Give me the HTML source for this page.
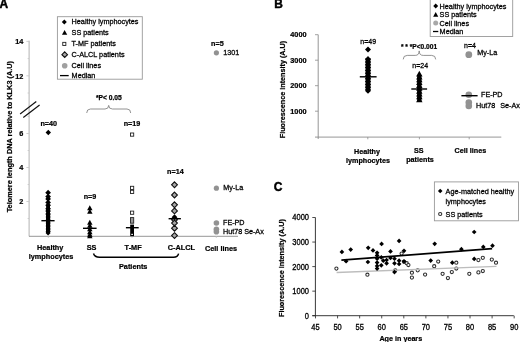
<!DOCTYPE html>
<html><head><meta charset="utf-8"><style>
html,body{margin:0;padding:0;background:#fff;}
body{width:520px;height:342px;overflow:hidden;}
svg{display:block;font-family:"Liberation Sans", sans-serif;filter:blur(0.35px);}
</style></head><body>
<svg width="520" height="342" viewBox="0 0 520 342">
<rect width="520" height="342" fill="#fff"/>
<text x="-0.4" y="8.3" font-size="11.9" font-weight="bold" text-anchor="start" fill="#000" stroke="#000" stroke-width="0.45">A</text>
<line x1="29.1" y1="40.7" x2="29.1" y2="236.3" stroke="#a4a4a4" stroke-width="0.85"/>
<line x1="26.4" y1="41.4" x2="29" y2="41.4" stroke="#c4c4c4" stroke-width="0.8"/>
<line x1="27.6" y1="58.599999999999994" x2="29" y2="58.599999999999994" stroke="#c4c4c4" stroke-width="0.8"/>
<line x1="26.4" y1="75.8" x2="29" y2="75.8" stroke="#c4c4c4" stroke-width="0.8"/>
<line x1="27.6" y1="93.0" x2="29" y2="93.0" stroke="#c4c4c4" stroke-width="0.8"/>
<line x1="27.6" y1="116.5" x2="29" y2="116.5" stroke="#c4c4c4" stroke-width="0.8"/>
<line x1="26.4" y1="133.5" x2="29" y2="133.5" stroke="#c4c4c4" stroke-width="0.8"/>
<line x1="27.6" y1="150.5" x2="29" y2="150.5" stroke="#c4c4c4" stroke-width="0.8"/>
<line x1="26.4" y1="167.5" x2="29" y2="167.5" stroke="#c4c4c4" stroke-width="0.8"/>
<line x1="27.6" y1="184.5" x2="29" y2="184.5" stroke="#c4c4c4" stroke-width="0.8"/>
<line x1="26.4" y1="201.5" x2="29" y2="201.5" stroke="#c4c4c4" stroke-width="0.8"/>
<line x1="27.6" y1="218.5" x2="29" y2="218.5" stroke="#c4c4c4" stroke-width="0.8"/>
<text x="23.4" y="44.1" font-size="7.3" font-weight="bold" text-anchor="end" fill="#000" stroke="#000" stroke-width="0.22">14</text>
<text x="23.4" y="78.5" font-size="7.3" font-weight="bold" text-anchor="end" fill="#000" stroke="#000" stroke-width="0.22">12</text>
<text x="23.4" y="136.1" font-size="7.3" font-weight="bold" text-anchor="end" fill="#000" stroke="#000" stroke-width="0.22">6</text>
<text x="23.4" y="170.1" font-size="7.3" font-weight="bold" text-anchor="end" fill="#000" stroke="#000" stroke-width="0.22">4</text>
<text x="23.4" y="204.1" font-size="7.3" font-weight="bold" text-anchor="end" fill="#000" stroke="#000" stroke-width="0.22">2</text>
<line x1="20.1" y1="113.9" x2="36.3" y2="101.6" stroke="#111" stroke-width="1.2"/>
<line x1="23.3" y1="117.5" x2="39.6" y2="105" stroke="#111" stroke-width="1.2"/>
<line x1="29" y1="236.3" x2="238" y2="236.3" stroke="#8a8a8a" stroke-width="0.9"/>
<line x1="48.3" y1="236.3" x2="48.3" y2="238.0" stroke="#c8c8c8" stroke-width="0.8"/>
<line x1="89.7" y1="236.3" x2="89.7" y2="238.0" stroke="#c8c8c8" stroke-width="0.8"/>
<line x1="132" y1="236.3" x2="132" y2="238.0" stroke="#c8c8c8" stroke-width="0.8"/>
<line x1="174.5" y1="236.3" x2="174.5" y2="238.0" stroke="#c8c8c8" stroke-width="0.8"/>
<line x1="216.3" y1="236.3" x2="216.3" y2="238.0" stroke="#c8c8c8" stroke-width="0.8"/>
<text transform="translate(11.5,136.65) rotate(-90)" font-size="7.35" font-weight="bold" text-anchor="middle" stroke="#000" stroke-width="0.22">Telomere length DNA relative to KLK3 (A.U)</text>
<rect x="57.4" y="16.7" width="84.9" height="62.5" fill="#fff" stroke="#999" stroke-width="0.9"/>
<path d="M64.3 19.5L66.8 22L64.3 24.5L61.8 22Z" fill="#000" stroke="none" stroke-width="0"/>
<path d="M64.6 29.950000000000003L67.25 34.72L61.949999999999996 34.72Z" fill="#000"/>
<rect x="62.75" y="42.35" width="3.1" height="3.1" fill="#fff" stroke="#222" stroke-width="0.9"/>
<path d="M64.7 51.900000000000006L67.5 54.7L64.7 57.5L61.900000000000006 54.7Z" fill="#a6a6a6" stroke="#111" stroke-width="1.1"/>
<circle cx="64.7" cy="65.8" r="2.8" fill="#a0a0a0"/>
<line x1="60" y1="75.6" x2="68.7" y2="75.6" stroke="#000" stroke-width="1.3"/>
<text x="71.6" y="24.3" font-size="7.25" text-anchor="start" fill="#000" stroke="#000" stroke-width="0.27">Healthy lymphocytes</text>
<text x="71.6" y="34.9" font-size="7.25" text-anchor="start" fill="#000" stroke="#000" stroke-width="0.27">SS patients</text>
<text x="71.6" y="46.199999999999996" font-size="7.25" text-anchor="start" fill="#000" stroke="#000" stroke-width="0.27">T-MF patients</text>
<text x="71.6" y="57.0" font-size="7.25" text-anchor="start" fill="#000" stroke="#000" stroke-width="0.27">C-ALCL patients</text>
<text x="71.6" y="68.1" font-size="7.25" text-anchor="start" fill="#000" stroke="#000" stroke-width="0.27">Cell lines</text>
<text x="71.6" y="77.89999999999999" font-size="7.25" text-anchor="start" fill="#000" stroke="#000" stroke-width="0.27">Median</text>
<text x="108.8" y="100.0" font-size="6.7" font-weight="bold" text-anchor="middle" fill="#000" stroke="#000" stroke-width="0.25">*P&lt; 0.05</text>
<path d="M86.7 113 Q86.7 109 90.5 109 L105 109 Q108.7 109 108.7 105.4 Q108.7 109 112.4 109 L127 109 Q130.7 109 130.7 113" fill="none" stroke="#777" stroke-width="0.8"/>
<text x="48.7" y="126" font-size="7.2" font-weight="bold" text-anchor="middle" fill="#000" stroke="#000" stroke-width="0.22">n=40</text>
<text x="132" y="125.5" font-size="7.2" font-weight="bold" text-anchor="middle" fill="#000" stroke="#000" stroke-width="0.22">n=19</text>
<text x="90.0" y="199.2" font-size="7.2" font-weight="bold" text-anchor="middle" fill="#000" stroke="#000" stroke-width="0.22">n=9</text>
<text x="175.4" y="173.6" font-size="7.2" font-weight="bold" text-anchor="middle" fill="#000" stroke="#000" stroke-width="0.22">n=14</text>
<text x="217.4" y="45.8" font-size="7.2" font-weight="bold" text-anchor="middle" fill="#000" stroke="#000" stroke-width="0.22">n=5</text>
<path d="M48.3 129.8L51.0 132.5L48.3 135.2L45.599999999999994 132.5Z" fill="#000" stroke="none" stroke-width="0"/>
<path d="M48.1 189.85L50.95 192.7L48.1 195.54999999999998L45.25 192.7Z" fill="#000" stroke="none" stroke-width="0"/>
<path d="M48.1 193.75L50.95 196.6L48.1 199.45L45.25 196.6Z" fill="#000" stroke="none" stroke-width="0"/>
<path d="M48.1 196.05L50.95 198.9L48.1 201.75L45.25 198.9Z" fill="#000" stroke="none" stroke-width="0"/>
<path d="M48.1 199.55L50.95 202.4L48.1 205.25L45.25 202.4Z" fill="#000" stroke="none" stroke-width="0"/>
<path d="M48.1 202.35L50.95 205.2L48.1 208.04999999999998L45.25 205.2Z" fill="#000" stroke="none" stroke-width="0"/>
<path d="M48.1 205.95000000000002L50.95 208.8L48.1 211.65L45.25 208.8Z" fill="#000" stroke="none" stroke-width="0"/>
<path d="M48.1 208.25L50.95 211.1L48.1 213.95L45.25 211.1Z" fill="#000" stroke="none" stroke-width="0"/>
<path d="M48.1 211.25L50.95 214.1L48.1 216.95L45.25 214.1Z" fill="#000" stroke="none" stroke-width="0"/>
<path d="M48.1 214.45L50.65 217L48.1 219.55L45.550000000000004 217Z" fill="#000" stroke="none" stroke-width="0"/>
<path d="M48.1 217.45L50.65 220L48.1 222.55L45.550000000000004 220Z" fill="#000" stroke="none" stroke-width="0"/>
<path d="M48.1 220.45L50.65 223L48.1 225.55L45.550000000000004 223Z" fill="#000" stroke="none" stroke-width="0"/>
<path d="M48.1 223.45L50.65 226L48.1 228.55L45.550000000000004 226Z" fill="#000" stroke="none" stroke-width="0"/>
<path d="M48.1 226.45L50.65 229L48.1 231.55L45.550000000000004 229Z" fill="#000" stroke="none" stroke-width="0"/>
<path d="M48.1 228.95L50.65 231.5L48.1 234.05L45.550000000000004 231.5Z" fill="#000" stroke="none" stroke-width="0"/>
<path d="M48.1 230.45L50.65 233.0L48.1 235.55L45.550000000000004 233.0Z" fill="#000" stroke="none" stroke-width="0"/>
<rect x="46.2" y="205" width="3.8" height="28" fill="#000"/>
<rect x="46.0" y="214" width="4.2" height="19" rx="1.5" fill="#000"/>
<line x1="41.4" y1="220.7" x2="54.6" y2="220.7" stroke="#000" stroke-width="1.4"/>
<path d="M89.8 205.3L92.5 210.16L87.1 210.16Z" fill="#000"/>
<path d="M89.8 208.8L92.5 213.66L87.1 213.66Z" fill="#000"/>
<path d="M89.8 219.8L92.5 224.66L87.1 224.66Z" fill="#000"/>
<path d="M89.8 222.8L92.5 227.66L87.1 227.66Z" fill="#000"/>
<path d="M89.8 226.3L92.5 231.16L87.1 231.16Z" fill="#000"/>
<path d="M89.8 229.3L92.5 234.16L87.1 234.16Z" fill="#000"/>
<path d="M89.8 231.8L92.5 236.66L87.1 236.66Z" fill="#000"/>
<path d="M89.8 233.3L92.5 238.16L87.1 238.16Z" fill="#000"/>
<line x1="83" y1="228.3" x2="96.6" y2="228.3" stroke="#000" stroke-width="1.4"/>
<rect x="130.5" y="133.0" width="3.2" height="3.2" fill="#fff" stroke="#222" stroke-width="0.9"/>
<rect x="130.5" y="186.3" width="3.2" height="3.2" fill="#fff" stroke="#222" stroke-width="0.9"/>
<rect x="130.5" y="190.3" width="3.2" height="3.2" fill="#fff" stroke="#222" stroke-width="0.9"/>
<rect x="130.5" y="211.1" width="3.2" height="3.2" fill="#fff" stroke="#222" stroke-width="0.9"/>
<rect x="130.5" y="217.6" width="3.2" height="5.6" fill="#999" stroke="#222" stroke-width="0.9"/>
<rect x="130.2" y="224.6" width="3.8" height="11.6" fill="#000"/>
<rect x="131.3" y="233.8" width="1.6" height="1.2" fill="#fff"/>
<line x1="125.9" y1="227.7" x2="138.7" y2="227.7" stroke="#000" stroke-width="1.4"/>
<path d="M174.5 181.9L177.4 184.8L174.5 187.70000000000002L171.6 184.8Z" fill="#a6a6a6" stroke="#111" stroke-width="1.1"/>
<path d="M174.5 192.1L177.4 195.0L174.5 197.9L171.6 195.0Z" fill="#a6a6a6" stroke="#111" stroke-width="1.1"/>
<path d="M174.5 201.9L177.4 204.8L174.5 207.70000000000002L171.6 204.8Z" fill="#a6a6a6" stroke="#111" stroke-width="1.1"/>
<path d="M174.5 208.0L177.4 210.9L174.5 213.8L171.6 210.9Z" fill="#a6a6a6" stroke="#111" stroke-width="1.1"/>
<path d="M174.5 216.9L177.4 219.8L174.5 222.70000000000002L171.6 219.8Z" fill="#a6a6a6" stroke="#111" stroke-width="1.1"/>
<path d="M174.5 220.2L177.4 223.1L174.5 226.0L171.6 223.1Z" fill="#a6a6a6" stroke="#111" stroke-width="1.1"/>
<path d="M174.5 225.29999999999998L177.4 228.2L174.5 231.1L171.6 228.2Z" fill="#a6a6a6" stroke="#111" stroke-width="1.1"/>
<path d="M174.5 232.7L177.4 235.6L174.5 238.5L171.6 235.6Z" fill="#a6a6a6" stroke="#111" stroke-width="1.1"/>
<path d="M174.5 214.29999999999998L177.4 217.2L174.5 220.1L171.6 217.2Z" fill="#000" stroke="none" stroke-width="0"/>
<line x1="168.6" y1="218.7" x2="180.9" y2="218.7" stroke="#000" stroke-width="1.4"/>
<circle cx="216.4" cy="52.8" r="2.6" fill="#929292"/>
<circle cx="216.4" cy="188.2" r="2.6" fill="#929292"/>
<circle cx="216.4" cy="223.0" r="2.8" fill="#929292"/>
<circle cx="216.4" cy="229.2" r="2.8" fill="#929292"/>
<circle cx="216.4" cy="231.8" r="2.8" fill="#929292"/>
<text x="223.2" y="55.4" font-size="7.2" text-anchor="start" fill="#000" stroke="#000" stroke-width="0.27">1301</text>
<text x="223.2" y="190.0" font-size="7.2" text-anchor="start" fill="#000" stroke="#000" stroke-width="0.27">My-La</text>
<text x="223.0" y="225.4" font-size="7.2" text-anchor="start" fill="#000" stroke="#000" stroke-width="0.27">FE-PD</text>
<text x="223.0" y="233.5" font-size="7.2" text-anchor="start" fill="#000" stroke="#000" stroke-width="0.27">Hut78 Se-Ax</text>
<text x="50.2" y="250.3" font-size="7.3" font-weight="bold" text-anchor="middle" fill="#000" stroke="#000" stroke-width="0.22">Healthy</text>
<text x="51.1" y="259.0" font-size="7.3" font-weight="bold" text-anchor="middle" fill="#000" stroke="#000" stroke-width="0.22">lymphocytes</text>
<text x="91.6" y="250.2" font-size="7.3" font-weight="bold" text-anchor="middle" fill="#000" stroke="#000" stroke-width="0.22">SS</text>
<text x="133.1" y="250.2" font-size="7.3" font-weight="bold" text-anchor="middle" fill="#000" stroke="#000" stroke-width="0.22">T-MF</text>
<text x="181.3" y="250.1" font-size="7.3" font-weight="bold" text-anchor="middle" fill="#000" stroke="#000" stroke-width="0.22">C-ALCL</text>
<text x="221.0" y="250.6" font-size="7.3" font-weight="bold" text-anchor="middle" fill="#000" stroke="#000" stroke-width="0.22">Cell lines</text>
<text x="133.2" y="268.7" font-size="7.3" font-weight="bold" text-anchor="middle" fill="#000" stroke="#000" stroke-width="0.22">Patients</text>
<path d="M93.5 253.5 Q94.5 257.2 99.6 257.2 L173.5 257.2 Q177.8 257.2 178.6 253.6" fill="none" stroke="#000" stroke-width="1.45"/>
<text x="274.3" y="8.2" font-size="11.9" font-weight="bold" text-anchor="start" fill="#000" stroke="#000" stroke-width="0.45">B</text>
<line x1="318.2" y1="34.7" x2="318.2" y2="139" stroke="#8a8a8a" stroke-width="0.9"/>
<line x1="315" y1="34.7" x2="318.2" y2="34.7" stroke="#8a8a8a" stroke-width="0.8"/>
<text x="306.5" y="37.300000000000004" font-size="7.3" font-weight="bold" text-anchor="end" fill="#000" stroke="#000" stroke-width="0.22">4000</text>
<line x1="315" y1="60.2" x2="318.2" y2="60.2" stroke="#8a8a8a" stroke-width="0.8"/>
<text x="306.5" y="62.800000000000004" font-size="7.3" font-weight="bold" text-anchor="end" fill="#000" stroke="#000" stroke-width="0.22">3000</text>
<line x1="315" y1="85.7" x2="318.2" y2="85.7" stroke="#8a8a8a" stroke-width="0.8"/>
<text x="306.5" y="88.3" font-size="7.3" font-weight="bold" text-anchor="end" fill="#000" stroke="#000" stroke-width="0.22">2000</text>
<line x1="315" y1="111.2" x2="318.2" y2="111.2" stroke="#8a8a8a" stroke-width="0.8"/>
<text x="306.5" y="113.8" font-size="7.3" font-weight="bold" text-anchor="end" fill="#000" stroke="#000" stroke-width="0.22">1000</text>
<line x1="315" y1="137.1" x2="501.3" y2="137.1" stroke="#8a8a8a" stroke-width="0.9"/>
<line x1="367.8" y1="137.1" x2="367.8" y2="139.3" stroke="#8a8a8a" stroke-width="0.8"/>
<line x1="419.4" y1="137.1" x2="419.4" y2="139.3" stroke="#8a8a8a" stroke-width="0.8"/>
<line x1="469.2" y1="137.1" x2="469.2" y2="139.3" stroke="#8a8a8a" stroke-width="0.8"/>
<text transform="translate(284.6,89.55) rotate(-90)" font-size="7.22" font-weight="bold" text-anchor="middle" stroke="#000" stroke-width="0.22">Fluorescence intensity (A.U)</text>
<rect x="430.2" y="-0.5" width="82.5" height="37" fill="#fff" stroke="#999" stroke-width="0.9"/>
<path d="M435.7 3.55L438.15 6.0L435.7 8.45L433.25 6.0Z" fill="#000" stroke="none" stroke-width="0"/>
<path d="M435.7 12.05L438.25 16.64L433.15 16.64Z" fill="#000"/>
<circle cx="435.7" cy="23.0" r="2.5" fill="#a8a8a8"/>
<line x1="433" y1="31.5" x2="438.3" y2="31.5" stroke="#000" stroke-width="1.3"/>
<text x="439.6" y="8.6" font-size="7.25" text-anchor="start" fill="#000" stroke="#000" stroke-width="0.27">Healthy lymphocytes</text>
<text x="439.6" y="17.2" font-size="7.25" text-anchor="start" fill="#000" stroke="#000" stroke-width="0.27">SS patients</text>
<text x="439.6" y="25.6" font-size="7.25" text-anchor="start" fill="#000" stroke="#000" stroke-width="0.27">Cell lines</text>
<text x="439.6" y="34.1" font-size="7.25" text-anchor="start" fill="#000" stroke="#000" stroke-width="0.27">Median</text>
<text x="368.2" y="44.1" font-size="7.0" text-anchor="middle" fill="#000" stroke="#000" stroke-width="0.27" transform="matrix(1 0 0 1.12 0 -5.292)">n=49</text>
<text x="420.2" y="68.3" font-size="7.0" text-anchor="middle" fill="#000" stroke="#000" stroke-width="0.27" transform="matrix(1 0 0 1.12 0 -8.196)">n=24</text>
<text x="470.0" y="48.3" font-size="7.0" text-anchor="middle" fill="#000" stroke="#000" stroke-width="0.27" transform="matrix(1 0 0 1.12 0 -5.796)">n=4</text>
<text x="419.0" y="49.0" font-size="6.6" font-weight="bold" text-anchor="middle" fill="#000" stroke="#000" stroke-width="0.22">* * *P&lt;0.001</text>
<path d="M403.2 59.4 Q403.2 55.4 407.2 55.4 L415.2 55.4 Q419.2 55.4 419.2 50.9 Q419.2 55.4 423.2 55.4 L431.7 55.4 Q435.7 55.4 435.7 59.4" fill="none" stroke="#777" stroke-width="0.8"/>
<path d="M368.0 46.4L371.0 49.4L368.0 52.4L365.0 49.4Z" fill="#000" stroke="none" stroke-width="0"/>
<path d="M368.0 56.1L371.1 59.2L368.0 62.300000000000004L364.9 59.2Z" fill="#000" stroke="none" stroke-width="0"/>
<path d="M368.0 58.9L371.1 62.0L368.0 65.1L364.9 62.0Z" fill="#000" stroke="none" stroke-width="0"/>
<path d="M368.0 61.699999999999996L371.1 64.8L368.0 67.89999999999999L364.9 64.8Z" fill="#000" stroke="none" stroke-width="0"/>
<path d="M368.0 64.5L371.1 67.6L368.0 70.69999999999999L364.9 67.6Z" fill="#000" stroke="none" stroke-width="0"/>
<path d="M368.0 67.30000000000001L371.1 70.4L368.0 73.5L364.9 70.4Z" fill="#000" stroke="none" stroke-width="0"/>
<path d="M368.0 70.10000000000001L371.1 73.2L368.0 76.3L364.9 73.2Z" fill="#000" stroke="none" stroke-width="0"/>
<path d="M368.0 72.9L371.1 76.0L368.0 79.1L364.9 76.0Z" fill="#000" stroke="none" stroke-width="0"/>
<path d="M368.0 75.7L371.1 78.8L368.0 81.89999999999999L364.9 78.8Z" fill="#000" stroke="none" stroke-width="0"/>
<path d="M368.0 78.5L371.1 81.6L368.0 84.69999999999999L364.9 81.6Z" fill="#000" stroke="none" stroke-width="0"/>
<path d="M368.0 81.30000000000001L371.1 84.4L368.0 87.5L364.9 84.4Z" fill="#000" stroke="none" stroke-width="0"/>
<path d="M368.0 84.10000000000001L371.1 87.2L368.0 90.3L364.9 87.2Z" fill="#000" stroke="none" stroke-width="0"/>
<path d="M368.0 86.9L371.1 90.0L368.0 93.1L364.9 90.0Z" fill="#000" stroke="none" stroke-width="0"/>
<path d="M368.0 88.2L370.8 91.0L368.0 93.8L365.2 91.0Z" fill="#000" stroke="none" stroke-width="0"/>
<rect x="365.6" y="58" width="4.8" height="32" fill="#000"/>
<line x1="359.8" y1="76.8" x2="376.6" y2="76.8" stroke="#000" stroke-width="1.4"/>
<path d="M419.3 70.8L422.5 76.56L416.1 76.56Z" fill="#000"/>
<path d="M419.3 73.64999999999999L422.5 79.41L416.1 79.41Z" fill="#000"/>
<path d="M419.3 76.5L422.5 82.26L416.1 82.26Z" fill="#000"/>
<path d="M419.3 79.35L422.5 85.11L416.1 85.11Z" fill="#000"/>
<path d="M419.3 82.2L422.5 87.96000000000001L416.1 87.96000000000001Z" fill="#000"/>
<path d="M419.3 85.05L422.5 90.81L416.1 90.81Z" fill="#000"/>
<path d="M419.3 87.89999999999999L422.5 93.66L416.1 93.66Z" fill="#000"/>
<path d="M419.3 90.75L422.5 96.51L416.1 96.51Z" fill="#000"/>
<path d="M419.3 93.6L422.5 99.36L416.1 99.36Z" fill="#000"/>
<path d="M419.3 96.45L422.5 102.21000000000001L416.1 102.21000000000001Z" fill="#000"/>
<rect x="417.2" y="75" width="4.2" height="26" fill="#000"/>
<line x1="411.3" y1="89.0" x2="427.1" y2="89.0" stroke="#000" stroke-width="1.4"/>
<circle cx="468.8" cy="54.7" r="3.4" fill="#929292"/>
<circle cx="468.8" cy="94.8" r="3.3" fill="#929292"/>
<circle cx="468.8" cy="102.6" r="3.3" fill="#929292"/>
<circle cx="468.8" cy="106.0" r="3.3" fill="#929292"/>
<line x1="461.4" y1="95.7" x2="477.6" y2="95.7" stroke="#000" stroke-width="1.4"/>
<text x="477.2" y="55.1" font-size="7.2" text-anchor="start" fill="#000" stroke="#000" stroke-width="0.27">My-La</text>
<text x="481.0" y="97.4" font-size="7.2" text-anchor="start" fill="#000" stroke="#000" stroke-width="0.27">FE-PD</text>
<text x="476.0" y="108.2" font-size="7.2" text-anchor="start" fill="#000" stroke="#000" stroke-width="0.27">Hut78</text>
<text x="500.3" y="108.2" font-size="7.2" text-anchor="start" fill="#000" stroke="#000" stroke-width="0.27">Se-Ax</text>
<text x="367.0" y="154.3" font-size="7.2" font-weight="bold" text-anchor="middle" fill="#000" stroke="#000" stroke-width="0.22">Healthy</text>
<text x="368.0" y="163.0" font-size="7.2" font-weight="bold" text-anchor="middle" fill="#000" stroke="#000" stroke-width="0.22">lymphocytes</text>
<text x="418.8" y="152.6" font-size="7.2" font-weight="bold" text-anchor="middle" fill="#000" stroke="#000" stroke-width="0.22">SS</text>
<text x="420.0" y="161.9" font-size="7.2" font-weight="bold" text-anchor="middle" fill="#000" stroke="#000" stroke-width="0.22">patients</text>
<text x="470.4" y="153.1" font-size="7.2" font-weight="bold" text-anchor="middle" fill="#000" stroke="#000" stroke-width="0.22">Cell lines</text>
<text x="273.7" y="190.7" font-size="12" font-weight="bold" text-anchor="start" fill="#000" stroke="#000" stroke-width="0.45">C</text>
<line x1="315.4" y1="217.5" x2="315.4" y2="315.7" stroke="#222" stroke-width="0.9"/>
<line x1="312.3" y1="217.5" x2="315.4" y2="217.5" stroke="#222" stroke-width="0.8"/>
<text x="309.0" y="220.5" font-size="7.5" text-anchor="end" fill="#000" stroke="#000" stroke-width="0.27" transform="matrix(1 0 0 1.25 0 -55.125)">4000</text>
<line x1="312.3" y1="242.05" x2="315.4" y2="242.05" stroke="#222" stroke-width="0.8"/>
<text x="309.0" y="245.05" font-size="7.5" text-anchor="end" fill="#000" stroke="#000" stroke-width="0.27" transform="matrix(1 0 0 1.25 0 -61.263)">3000</text>
<line x1="312.3" y1="266.6" x2="315.4" y2="266.6" stroke="#222" stroke-width="0.8"/>
<text x="309.0" y="269.6" font-size="7.5" text-anchor="end" fill="#000" stroke="#000" stroke-width="0.27" transform="matrix(1 0 0 1.25 0 -67.4)">2000</text>
<line x1="312.3" y1="291.15" x2="315.4" y2="291.15" stroke="#222" stroke-width="0.8"/>
<text x="309.0" y="294.15" font-size="7.5" text-anchor="end" fill="#000" stroke="#000" stroke-width="0.27" transform="matrix(1 0 0 1.25 0 -73.537)">1000</text>
<line x1="312.3" y1="315.7" x2="315.4" y2="315.7" stroke="#222" stroke-width="0.8"/>
<text x="309.0" y="318.7" font-size="7.5" text-anchor="end" fill="#000" stroke="#000" stroke-width="0.27" transform="matrix(1 0 0 1.25 0 -79.675)">0</text>
<line x1="312.3" y1="315.7" x2="513.8" y2="315.7" stroke="#222" stroke-width="0.9"/>
<line x1="315.5" y1="315.7" x2="315.5" y2="318.4" stroke="#222" stroke-width="0.8"/>
<text x="315.5" y="330.4" font-size="7.5" text-anchor="middle" fill="#000" stroke="#000" stroke-width="0.27" transform="matrix(1 0 0 1.2 0 -66.08)">45</text>
<line x1="337.575" y1="315.7" x2="337.575" y2="318.4" stroke="#222" stroke-width="0.8"/>
<text x="337.575" y="330.4" font-size="7.5" text-anchor="middle" fill="#000" stroke="#000" stroke-width="0.27" transform="matrix(1 0 0 1.2 0 -66.08)">50</text>
<line x1="359.65" y1="315.7" x2="359.65" y2="318.4" stroke="#222" stroke-width="0.8"/>
<text x="359.65" y="330.4" font-size="7.5" text-anchor="middle" fill="#000" stroke="#000" stroke-width="0.27" transform="matrix(1 0 0 1.2 0 -66.08)">55</text>
<line x1="381.725" y1="315.7" x2="381.725" y2="318.4" stroke="#222" stroke-width="0.8"/>
<text x="381.725" y="330.4" font-size="7.5" text-anchor="middle" fill="#000" stroke="#000" stroke-width="0.27" transform="matrix(1 0 0 1.2 0 -66.08)">60</text>
<line x1="403.8" y1="315.7" x2="403.8" y2="318.4" stroke="#222" stroke-width="0.8"/>
<text x="403.8" y="330.4" font-size="7.5" text-anchor="middle" fill="#000" stroke="#000" stroke-width="0.27" transform="matrix(1 0 0 1.2 0 -66.08)">65</text>
<line x1="425.875" y1="315.7" x2="425.875" y2="318.4" stroke="#222" stroke-width="0.8"/>
<text x="425.875" y="330.4" font-size="7.5" text-anchor="middle" fill="#000" stroke="#000" stroke-width="0.27" transform="matrix(1 0 0 1.2 0 -66.08)">70</text>
<line x1="447.95" y1="315.7" x2="447.95" y2="318.4" stroke="#222" stroke-width="0.8"/>
<text x="447.95" y="330.4" font-size="7.5" text-anchor="middle" fill="#000" stroke="#000" stroke-width="0.27" transform="matrix(1 0 0 1.2 0 -66.08)">75</text>
<line x1="470.025" y1="315.7" x2="470.025" y2="318.4" stroke="#222" stroke-width="0.8"/>
<text x="470.025" y="330.4" font-size="7.5" text-anchor="middle" fill="#000" stroke="#000" stroke-width="0.27" transform="matrix(1 0 0 1.2 0 -66.08)">80</text>
<line x1="492.1" y1="315.7" x2="492.1" y2="318.4" stroke="#222" stroke-width="0.8"/>
<text x="492.1" y="330.4" font-size="7.5" text-anchor="middle" fill="#000" stroke="#000" stroke-width="0.27" transform="matrix(1 0 0 1.2 0 -66.08)">85</text>
<line x1="514.175" y1="315.7" x2="514.175" y2="318.4" stroke="#222" stroke-width="0.8"/>
<text x="514.175" y="330.4" font-size="7.5" text-anchor="middle" fill="#000" stroke="#000" stroke-width="0.27" transform="matrix(1 0 0 1.2 0 -66.08)">90</text>
<text x="400.8" y="340.6" font-size="7.2" font-weight="bold" text-anchor="middle" fill="#000" stroke="#000" stroke-width="0.22">Age in years</text>
<text transform="translate(284.0,268.1) rotate(-90)" font-size="7.25" font-weight="bold" text-anchor="middle" stroke="#000" stroke-width="0.22">Fluorescence intensity (A.U)</text>
<rect x="434.4" y="181.9" width="84.1" height="38.9" fill="#fff" stroke="#999" stroke-width="0.9"/>
<path d="M440.2 188.7L442.5 191L440.2 193.3L437.9 191Z" fill="#000" stroke="none" stroke-width="0"/>
<circle cx="440.2" cy="214.0" r="1.6" fill="#fff" stroke="#2e2e2e" stroke-width="1.05"/>
<text x="445.6" y="193.6" font-size="7.25" text-anchor="start" fill="#000" stroke="#000" stroke-width="0.27">Age-matched healthy</text>
<text x="445.6" y="204.1" font-size="7.25" text-anchor="start" fill="#000" stroke="#000" stroke-width="0.27">lymphocytes</text>
<text x="445.6" y="216.8" font-size="7.25" text-anchor="start" fill="#000" stroke="#000" stroke-width="0.27">SS patients</text>
<circle cx="336.4" cy="268.6" r="1.6" fill="#fff" stroke="#2e2e2e" stroke-width="1.05"/>
<circle cx="367.4" cy="274.7" r="1.6" fill="#fff" stroke="#2e2e2e" stroke-width="1.05"/>
<circle cx="395.3" cy="270.3" r="1.6" fill="#fff" stroke="#2e2e2e" stroke-width="1.05"/>
<circle cx="411.9" cy="272.7" r="1.6" fill="#fff" stroke="#2e2e2e" stroke-width="1.05"/>
<circle cx="411.9" cy="277.6" r="1.6" fill="#fff" stroke="#2e2e2e" stroke-width="1.05"/>
<circle cx="417.7" cy="270.3" r="1.6" fill="#fff" stroke="#2e2e2e" stroke-width="1.05"/>
<circle cx="425.1" cy="274.6" r="1.6" fill="#fff" stroke="#2e2e2e" stroke-width="1.05"/>
<circle cx="434.2" cy="266.2" r="1.6" fill="#fff" stroke="#2e2e2e" stroke-width="1.05"/>
<circle cx="438.2" cy="261.5" r="1.6" fill="#fff" stroke="#2e2e2e" stroke-width="1.05"/>
<circle cx="442.6" cy="273.8" r="1.6" fill="#fff" stroke="#2e2e2e" stroke-width="1.05"/>
<circle cx="447.9" cy="278" r="1.6" fill="#fff" stroke="#2e2e2e" stroke-width="1.05"/>
<circle cx="451.8" cy="272" r="1.6" fill="#fff" stroke="#2e2e2e" stroke-width="1.05"/>
<circle cx="456.3" cy="262.7" r="1.6" fill="#fff" stroke="#2e2e2e" stroke-width="1.05"/>
<circle cx="456.3" cy="268.5" r="1.6" fill="#fff" stroke="#2e2e2e" stroke-width="1.05"/>
<circle cx="478.4" cy="260.1" r="1.6" fill="#fff" stroke="#2e2e2e" stroke-width="1.05"/>
<circle cx="482.8" cy="257.8" r="1.6" fill="#fff" stroke="#2e2e2e" stroke-width="1.05"/>
<circle cx="491.8" cy="259.6" r="1.6" fill="#fff" stroke="#2e2e2e" stroke-width="1.05"/>
<circle cx="496" cy="262.7" r="1.6" fill="#fff" stroke="#2e2e2e" stroke-width="1.05"/>
<circle cx="469.3" cy="273.8" r="1.6" fill="#fff" stroke="#2e2e2e" stroke-width="1.05"/>
<circle cx="478.4" cy="272.4" r="1.6" fill="#fff" stroke="#2e2e2e" stroke-width="1.05"/>
<circle cx="482.8" cy="271" r="1.6" fill="#fff" stroke="#2e2e2e" stroke-width="1.05"/>
<circle cx="404" cy="261.8" r="1.6" fill="#fff" stroke="#2e2e2e" stroke-width="1.05"/>
<circle cx="406.7" cy="263.2" r="1.6" fill="#fff" stroke="#2e2e2e" stroke-width="1.05"/>
<circle cx="408.4" cy="265" r="1.6" fill="#fff" stroke="#2e2e2e" stroke-width="1.05"/>
<circle cx="401.6" cy="253.6" r="1.6" fill="#fff" stroke="#2e2e2e" stroke-width="1.05"/>
<line x1="336.6" y1="272.5" x2="496.5" y2="266.4" stroke="#bdbdbd" stroke-width="1.4"/>
<line x1="341.4" y1="260.2" x2="492.1" y2="248.7" stroke="#000" stroke-width="1.7"/>
<path d="M341.9 249.55L344.25 251.9L341.9 254.25L339.54999999999995 251.9Z" fill="#000" stroke="none" stroke-width="0"/>
<path d="M350.7 247.25L353.05 249.6L350.7 251.95L348.34999999999997 249.6Z" fill="#000" stroke="none" stroke-width="0"/>
<path d="M346.1 258.84999999999997L348.45000000000005 261.2L346.1 263.55L343.75 261.2Z" fill="#000" stroke="none" stroke-width="0"/>
<path d="M368.2 245.45000000000002L370.55 247.8L368.2 250.15L365.84999999999997 247.8Z" fill="#000" stroke="none" stroke-width="0"/>
<path d="M373 248.05L375.35 250.4L373 252.75L370.65 250.4Z" fill="#000" stroke="none" stroke-width="0"/>
<path d="M381.6 241.55L383.95000000000005 243.9L381.6 246.25L379.25 243.9Z" fill="#000" stroke="none" stroke-width="0"/>
<path d="M399.1 238.55L401.45000000000005 240.9L399.1 243.25L396.75 240.9Z" fill="#000" stroke="none" stroke-width="0"/>
<path d="M377.1 250.45000000000002L379.45000000000005 252.8L377.1 255.15L374.75 252.8Z" fill="#000" stroke="none" stroke-width="0"/>
<path d="M377.1 253.05L379.45000000000005 255.4L377.1 257.75L374.75 255.4Z" fill="#000" stroke="none" stroke-width="0"/>
<path d="M377.1 256.34999999999997L379.45000000000005 258.7L377.1 261.05L374.75 258.7Z" fill="#000" stroke="none" stroke-width="0"/>
<path d="M377.1 260.25L379.45000000000005 262.6L377.1 264.95000000000005L374.75 262.6Z" fill="#000" stroke="none" stroke-width="0"/>
<path d="M377.1 263.54999999999995L379.45000000000005 265.9L377.1 268.25L374.75 265.9Z" fill="#000" stroke="none" stroke-width="0"/>
<path d="M377.1 266.25L379.45000000000005 268.6L377.1 270.95000000000005L374.75 268.6Z" fill="#000" stroke="none" stroke-width="0"/>
<path d="M381.3 255.04999999999998L383.65000000000003 257.4L381.3 259.75L378.95 257.4Z" fill="#000" stroke="none" stroke-width="0"/>
<path d="M381.3 262.95L383.65000000000003 265.3L381.3 267.65000000000003L378.95 265.3Z" fill="#000" stroke="none" stroke-width="0"/>
<path d="M383.3 258.34999999999997L385.65000000000003 260.7L383.3 263.05L380.95 260.7Z" fill="#000" stroke="none" stroke-width="0"/>
<path d="M386.6 257.65L388.95000000000005 260L386.6 262.35L384.25 260Z" fill="#000" stroke="none" stroke-width="0"/>
<path d="M386.6 260.95L388.95000000000005 263.3L386.6 265.65000000000003L384.25 263.3Z" fill="#000" stroke="none" stroke-width="0"/>
<path d="M390.5 249.05L392.85 251.4L390.5 253.75L388.15 251.4Z" fill="#000" stroke="none" stroke-width="0"/>
<path d="M390.5 255.65L392.85 258L390.5 260.35L388.15 258Z" fill="#000" stroke="none" stroke-width="0"/>
<path d="M394.5 256.34999999999997L396.85 258.7L394.5 261.05L392.15 258.7Z" fill="#000" stroke="none" stroke-width="0"/>
<path d="M394.5 260.95L396.85 263.3L394.5 265.65000000000003L392.15 263.3Z" fill="#000" stroke="none" stroke-width="0"/>
<path d="M394.5 269.75L396.85 272.1L394.5 274.45000000000005L392.15 272.1Z" fill="#000" stroke="none" stroke-width="0"/>
<path d="M399.1 258.34999999999997L401.45000000000005 260.7L399.1 263.05L396.75 260.7Z" fill="#000" stroke="none" stroke-width="0"/>
<path d="M399.1 261.65L401.45000000000005 264L399.1 266.35L396.75 264Z" fill="#000" stroke="none" stroke-width="0"/>
<path d="M404 248.45000000000002L406.35 250.8L404 253.15L401.65 250.8Z" fill="#000" stroke="none" stroke-width="0"/>
<path d="M404 258.95L406.35 261.3L404 263.65000000000003L401.65 261.3Z" fill="#000" stroke="none" stroke-width="0"/>
<path d="M367.9 259.65L370.25 262L367.9 264.35L365.54999999999995 262Z" fill="#000" stroke="none" stroke-width="0"/>
<path d="M434.7 241.45000000000002L437.05 243.8L434.7 246.15L432.34999999999997 243.8Z" fill="#000" stroke="none" stroke-width="0"/>
<path d="M430.7 258.25L433.05 260.6L430.7 262.95000000000005L428.34999999999997 260.6Z" fill="#000" stroke="none" stroke-width="0"/>
<path d="M452.3 260.34999999999997L454.65000000000003 262.7L452.3 265.05L449.95 262.7Z" fill="#000" stroke="none" stroke-width="0"/>
<path d="M474.2 229.65L476.55 232L474.2 234.35L471.84999999999997 232Z" fill="#000" stroke="none" stroke-width="0"/>
<path d="M461.4 246.85L463.75 249.2L461.4 251.54999999999998L459.04999999999995 249.2Z" fill="#000" stroke="none" stroke-width="0"/>
<path d="M483.3 244.55L485.65000000000003 246.9L483.3 249.25L480.95 246.9Z" fill="#000" stroke="none" stroke-width="0"/>
<path d="M492.5 243.35L494.85 245.7L492.5 248.04999999999998L490.15 245.7Z" fill="#000" stroke="none" stroke-width="0"/>
<path d="M474.2 256.54999999999995L476.55 258.9L474.2 261.25L471.84999999999997 258.9Z" fill="#000" stroke="none" stroke-width="0"/>
</svg>
</body></html>
